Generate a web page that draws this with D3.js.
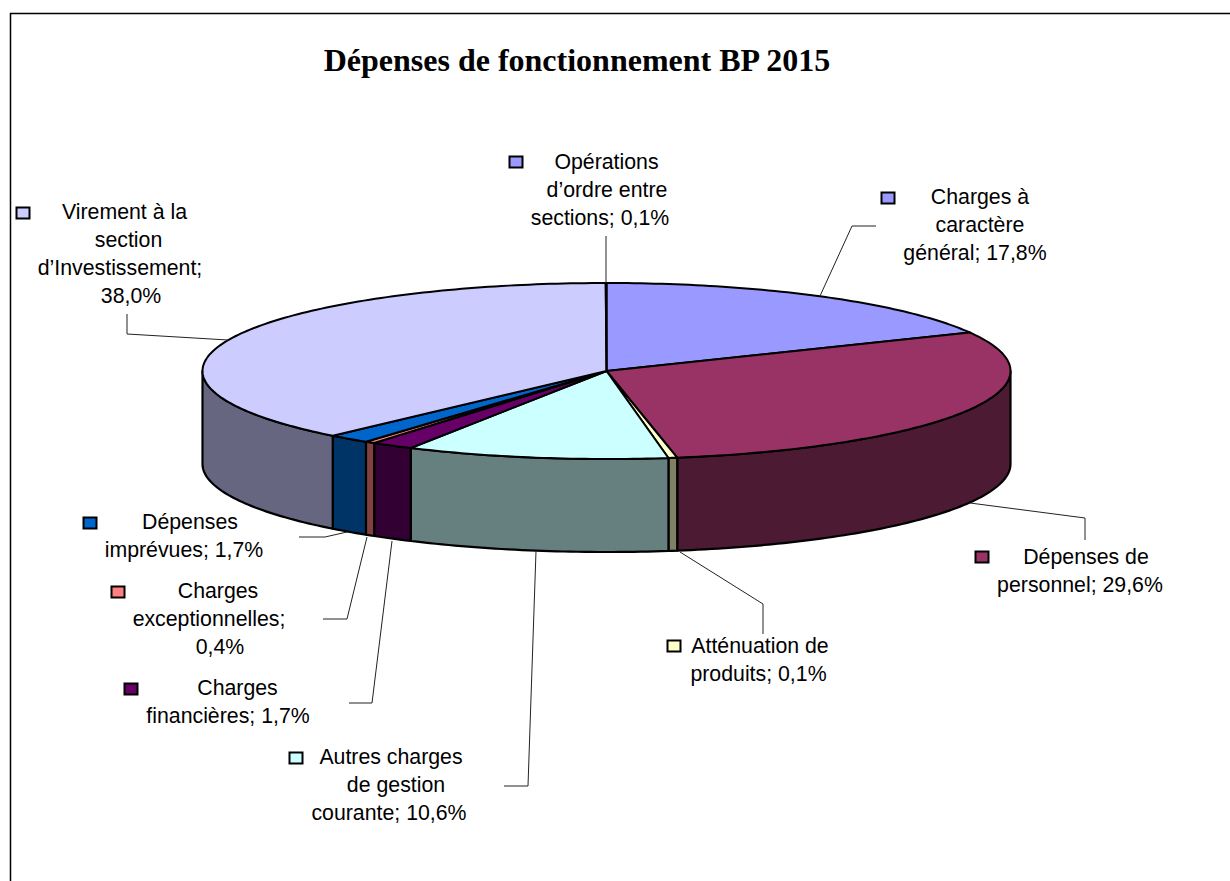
<!DOCTYPE html>
<html lang="fr">
<head>
<meta charset="utf-8">
<title>Dépenses de fonctionnement BP 2015</title>
<script src="https://cdn.jsdelivr.net/npm/d3@7"></script>
<style>
html,body{margin:0;padding:0;background:#fff;overflow:hidden}
svg{display:block}
</style>
</head>
<body>
<svg id="chart" width="1230" height="881"></svg>
<script>
// Data: categories, the percentages printed on the labels, and the slice widths as drawn in the picture
const chartTitle = "Dépenses de fonctionnement BP 2015";
const categories = [
  "Charges à caractère général",
  "Dépenses de personnel",
  "Atténuation de produits",
  "Autres charges de gestion courante",
  "Charges financières",
  "Charges exceptionnelles",
  "Dépenses imprévues",
  "Virement à la section d’Investissement",
  "Opérations d’ordre entre sections"
];
const labelledPercent = [17.8, 29.6, 0.1, 10.6, 1.7, 0.4, 1.7, 38.0, 0.1];
const drawnShare = [17.8, 29.4, 0.35, 10.5, 1.7, 0.4, 1.7, 38.12, 0.03];
const sliceColors = ["#9999FF", "#993366", "#FFFFCC", "#CCFFFF", "#660066", "#FF8080", "#0066CC", "#CCCCFF", "#9999FF"];

// Layout: how each label's category name wraps, in order of the categories
const labelLines = [
  ["Charges à", "caractère", "général; %"],
  ["Dépenses de", "personnel; %"],
  ["Atténuation de", "produits; %"],
  ["Autres charges", "de gestion", "courante; %"],
  ["Charges", "financières; %"],
  ["Charges", "exceptionnelles;", "%"],
  ["Dépenses", "imprévues; %"],
  ["Virement à la", "section", "d’Investissement;", "%"],
  ["Opérations", "d’ordre entre", "sections; %"]
];
const labelLayout = [
  {key:[881,192], base:204, cx:[980,980,975]},
  {key:[975,551], base:564, cx:[1086,1080]},
  {key:[667,640], base:653, cx:[760,758.5]},
  {key:[289,752], base:764, cx:[391,396,389]},
  {key:[124,683], base:695, cx:[237.5,228]},
  {key:[111,586], base:598, cx:[218,209,220]},
  {key:[83,517],  base:529, cx:[190,184]},
  {key:[16,207],  base:219, cx:[124.5,128.5,120,131]},
  {key:[509,156], base:169, cx:[606.5,607,600]}
];
const leaderPaths = [
  [[876,226],[852,226],[820,296]],
  [[1085,540],[1085,518],[970,503]],
  [[763,634],[763,604],[680,552]],
  [[504,786],[528,786],[536,551]],
  [[349,703],[372,703],[392,541]],
  [[323,619],[347,619],[367,537]],
  [[299,537],[325,537],[347,532]],
  [[127,314],[127,334],[228,340]],
  [[606,236],[606,283]]
];

const svg = d3.select("#chart");
const W = 1230, H = 881;
const cx = 606.5, cy = 371, rx = 404, ry = 88, depth = 93;
const lineH = 28;

const x = d3.scaleLinear().domain([-1, 1]).range([cx - rx, cx + rx]);
const y = d3.scaleLinear().domain([-1, 1]).range([cy - ry, cy + ry]);

svg.append("path")
  .attr("d", `M10.5,${H}V13.5H${W}`)
  .attr("fill", "none").attr("stroke", "#000").attr("stroke-width", 1.5);

svg.append("text")
  .attr("x", 577).attr("y", 71)
  .attr("text-anchor", "middle")
  .attr("font-family", "'Liberation Serif', serif")
  .attr("font-weight", "bold")
  .attr("font-size", 32)
  .attr("fill", "#000")
  .text(chartTitle);

const pie = d3.pie().sort(null).value(d => d.share);
const rows = categories.map((name, i) => ({name, share: drawnShare[i], pct: labelledPercent[i], color: sliceColors[i], i}));
const slices = pie(rows);

const px = a => x(Math.sin(a));
const py = a => y(-Math.cos(a));

function arcPoints(a0, a1, dy) {
  const n = Math.max(2, Math.ceil((a1 - a0) / (Math.PI / 180)));
  return d3.range(n + 1).map(k => {
    const a = a0 + (a1 - a0) * k / n;
    return [px(a), py(a) + dy];
  });
}
const line = d3.line();
const half = c => { const q = d3.rgb(c); return d3.rgb(q.r * .5, q.g * .5, q.b * .5).formatHex(); };

// Front walls: only the part of the rim between 90° and 270° faces the viewer
svg.append("g").selectAll("path")
  .data(slices.filter(s => s.endAngle > Math.PI / 2 && s.startAngle < 3 * Math.PI / 2))
  .join("path")
  .attr("d", s => {
    const a0 = Math.max(s.startAngle, Math.PI / 2), a1 = Math.min(s.endAngle, 3 * Math.PI / 2);
    return line(arcPoints(a0, a1, 0).concat(arcPoints(a0, a1, depth).reverse())) + "Z";
  })
  .attr("fill", s => half(s.data.color))
  .attr("stroke", "#000").attr("stroke-width", 2.2).attr("stroke-linejoin", "round");

// Top faces
svg.append("g").selectAll("path")
  .data(slices)
  .join("path")
  .attr("d", s => line([[x(0), y(0)]].concat(arcPoints(s.startAngle, s.endAngle, 0))) + "Z")
  .attr("fill", s => s.data.color)
  .attr("stroke", "#000").attr("stroke-width", 2).attr("stroke-linejoin", "round");

// Leader lines
svg.append("g").selectAll("path")
  .data(leaderPaths)
  .join("path")
  .attr("d", d => line(d))
  .attr("fill", "none").attr("stroke", "#222").attr("stroke-width", 1);

// Labels with legend keys
const fmt = v => v.toFixed(1).replace(".", ",") + "%";
const labels = svg.append("g").selectAll("g").data(rows).join("g");

labels.append("rect")
  .attr("x", d => labelLayout[d.i].key[0] + .5)
  .attr("y", d => labelLayout[d.i].key[1] + .5)
  .attr("width", 13).attr("height", 11)
  .attr("fill", d => d.color)
  .attr("stroke", "#000").attr("stroke-width", 2);

labels.each(function(d) {
  const lay = labelLayout[d.i];
  d3.select(this).selectAll("text")
    .data(labelLines[d.i])
    .join("text")
    .attr("x", (t, k) => lay.cx[k])
    .attr("y", (t, k) => lay.base + k * lineH)
    .attr("text-anchor", "middle")
    .attr("font-family", "'Liberation Sans', Arial, sans-serif")
    .attr("font-size", 21.3)
    .attr("fill", "#000")
    .text(t => t.replace("%", fmt(d.pct)));
});
</script>
</body>
</html>
